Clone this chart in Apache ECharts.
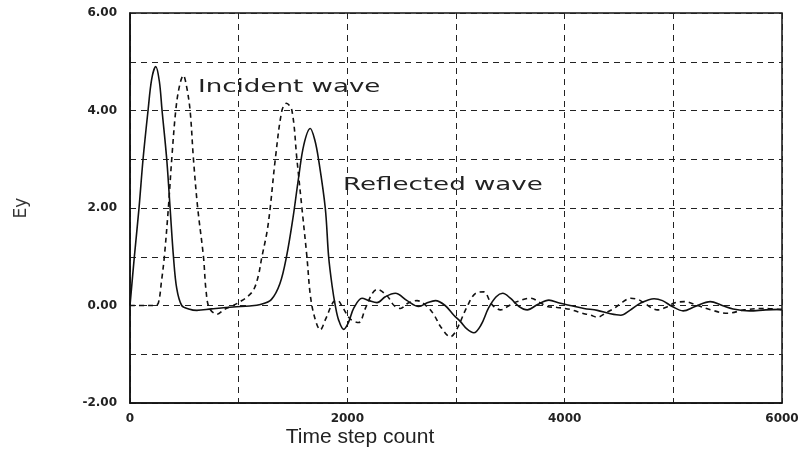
<!DOCTYPE html>
<html>
<head>
<meta charset="utf-8">
<script src="https://cdn.jsdelivr.net/npm/echarts@6/dist/echarts.min.js"></script>
<style>
html,body{margin:0;padding:0;background:#fff;}
#chart{width:807px;height:451px;}
</style>
</head>
<body>
<div id="chart"></div>
<script>
// ---- data ----
const xTicks = [0, 2000, 4000, 6000];
const yTicks = [-2, 0, 2, 4, 6];

// solid curve (reflected wave)
const reflectedT = [0, 40, 83, 120, 166, 200, 237, 270, 295, 338, 369, 400, 430, 476, 540, 615, 750, 950, 1100, 1200,
  1300, 1380, 1440, 1500, 1550, 1600, 1659, 1700, 1735, 1797, 1828, 1860, 1889, 1920, 1966, 2010, 2060, 2135, 2200, 2273,
  2350, 2442, 2550, 2657, 2740, 2811, 2900, 2980, 3041, 3100, 3164, 3230, 3300, 3370, 3430, 3500, 3580, 3656, 3750, 3855,
  3950, 4050, 4178, 4300, 4420, 4516, 4600, 4700, 4823, 4900, 4990, 5090, 5200, 5340, 5450, 5550, 5700, 5850, 6000];
const reflectedEy = [0, 1.0, 2.0, 3.0, 4.0, 4.65, 4.9, 4.6, 4.0, 3.0, 2.0, 1.0, 0.35, 0.0, -0.07, -0.1, -0.07, -0.03, -0.01, 0.02,
  0.12, 0.45, 1.0, 1.8, 2.6, 3.3, 3.63, 3.4, 3.0, 2.0, 1.0, 0.4, 0.0, -0.3, -0.49, -0.35, -0.05, 0.15, 0.1, 0.06,
  0.18, 0.25, 0.1, -0.02, 0.06, 0.1, 0.0, -0.2, -0.33, -0.48, -0.56, -0.4, -0.05, 0.18, 0.25, 0.15, -0.02, -0.09, 0.02, 0.11,
  0.05, 0.0, -0.06, -0.1, -0.17, -0.2, -0.1, 0.05, 0.14, 0.1, -0.02, -0.11, -0.02, 0.08, 0.0, -0.07, -0.11, -0.09, -0.08];

// dashed curve (incident wave)
const incidentT = [0, 150, 230, 261, 290, 316, 353, 384, 421, 455, 491, 520, 553, 584, 623, 676, 700, 730, 800, 870,
  950, 1014, 1080, 1137, 1180, 1214, 1260, 1290, 1337, 1398, 1440, 1490, 1536, 1582, 1628, 1660, 1700, 1751, 1800, 1874,
  1910, 1960, 2028, 2104, 2166, 2230, 2273, 2365, 2430, 2488, 2560, 2642, 2734, 2800, 2857, 2949, 3000, 3103, 3180, 3256,
  3320, 3349, 3410, 3490, 3564, 3687, 3780, 3840, 3932, 4050, 4150, 4240, 4301, 4380, 4455, 4520, 4608, 4680, 4731, 4854,
  4950, 5008, 5100, 5200, 5346, 5500, 5653, 5837, 6000];
const incidentEy = [0, 0, 0, 0.05, 0.5, 1.0, 2.0, 3.0, 4.0, 4.5, 4.72, 4.5, 4.0, 3.0, 2.0, 1.0, 0.3, -0.05, -0.18, -0.08,
  0.0, 0.08, 0.18, 0.32, 0.6, 1.0, 1.5, 2.0, 3.0, 4.0, 4.15, 4.0, 3.0, 2.0, 1.0, 0.2, -0.25, -0.5, -0.28, 0.08,
  0.1, -0.05, -0.28, -0.35, -0.06, 0.25, 0.33, 0.2, 0.0, -0.06, 0.05, 0.1, -0.02, -0.2, -0.43, -0.64, -0.52, -0.02, 0.25, 0.28,
  0.05, -0.02, -0.09, 0.0, 0.08, 0.15, 0.05, -0.02, -0.04, -0.08, -0.15, -0.2, -0.24, -0.15, -0.06, 0.05, 0.15, 0.12, 0.05, -0.09,
  -0.02, 0.05, 0.08, 0.02, -0.09, -0.16, -0.09, -0.06, -0.09];

const xAxisTitle = 'Time step count';
const yAxisTitle = 'Ey';
const incidentLabel = 'Incident wave';
const reflectedLabel = 'Reflected wave';

// ---- chart ----
const pairs = (t, v) => t.map((x, i) => [x, v[i]]);
const chart = echarts.init(document.getElementById('chart'), null, {renderer: 'canvas'});
const gridLine = {show: true, lineStyle: {color: '#222', width: 1, type: [6, 5]}};
const labelFont = {color: '#222', fontFamily: 'DejaVu Sans', fontWeight: 'bold', fontSize: 12};

chart.setOption({
  animation: false,
  backgroundColor: '#fff',
  grid: {left: 130, right: 25, top: 13, bottom: 48, show: true, borderColor: '#111', borderWidth: 1.5, backgroundColor: 'transparent'},
  xAxis: {
    type: 'value', min: 0, max: 6000, interval: 1000,
    axisLine: {show: true, onZero: false, lineStyle: {color: '#111', width: 1.5}},
    axisTick: {show: false},
    splitLine: gridLine,
    axisLabel: Object.assign({margin: 10, formatter: v => xTicks.includes(v) ? String(v) : ''}, labelFont)
  },
  yAxis: {
    type: 'value', min: -2, max: 6, interval: 1,
    name: yAxisTitle, nameLocation: 'middle', nameGap: 100, nameRotate: 90,
    nameTextStyle: {color: '#333', fontFamily: 'DejaVu Sans', fontSize: 17},
    axisLine: {show: true, onZero: false, lineStyle: {color: '#111', width: 1.5}},
    axisTick: {show: false},
    splitLine: gridLine,
    axisLabel: Object.assign({margin: 13, formatter: v => yTicks.includes(v) ? v.toFixed(2) : ''}, labelFont)
  },
  series: [
    {
      name: reflectedLabel, type: 'line', data: pairs(reflectedT, reflectedEy),
      showSymbol: false, smooth: 0.35, z: 3,
      lineStyle: {color: '#111', width: 1.6}
    },
    {
      name: incidentLabel, type: 'line', data: pairs(incidentT, incidentEy),
      showSymbol: false, smooth: 0.35, z: 3,
      lineStyle: {color: '#111', width: 1.6, type: [5, 4]}
    }
  ],
  graphic: [
    {type: 'text', x: 198, y: 87, scaleX: 1.45, z: 10,
     style: {text: incidentLabel, fontFamily: 'DejaVu Sans', fontSize: 18, fill: '#222', align: 'left', verticalAlign: 'middle'}},
    {type: 'text', x: 343, y: 185, scaleX: 1.45, z: 10,
     style: {text: reflectedLabel, fontFamily: 'DejaVu Sans', fontSize: 18, fill: '#222', align: 'left', verticalAlign: 'middle'}},
    {type: 'text', x: 360, y: 437, z: 10,
     style: {text: xAxisTitle, fontFamily: 'Liberation Sans', fontSize: 21, fill: '#222', align: 'center', verticalAlign: 'middle'}}
  ]
});
</script>
</body>
</html>
